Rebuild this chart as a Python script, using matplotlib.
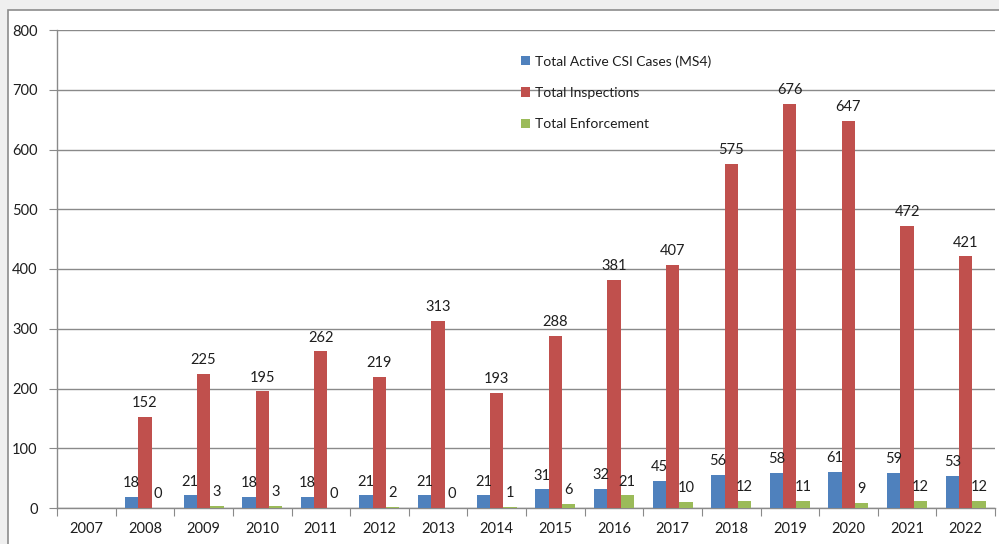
import numpy as np
import matplotlib.pyplot as plt
from matplotlib.patches import Rectangle

years = ['2007', '2008', '2009', '2010', '2011', '2012', '2013', '2014',
         '2015', '2016', '2017', '2018', '2019', '2020', '2021', '2022']
active_cases = [np.nan, 18, 21, 18, 18, 21, 21, 21, 31, 32, 45, 56, 58, 61, 59, 53]
inspections = [np.nan, 152, 225, 195, 262, 219, 313, 193, 288, 381, 407, 575, 676, 647, 472, 421]
enforcement = [np.nan, 0, 3, 3, 0, 2, 0, 1, 6, 21, 10, 12, 11, 9, 12, 12]

series = [
    ('Total Active CSI Cases (MS4)', active_cases, '#4F81BD'),
    ('Total Inspections', inspections, '#C0504D'),
    ('Total Enforcement', enforcement, '#9BBB59'),
]

plt.rcParams['font.family'] = ['Lato', 'DejaVu Sans']
txt = '#1e1e1e'
grid = '#8a8a8a'

fig = plt.figure(figsize=(9.99, 5.44), dpi=100, facecolor='#efefef')
# chart area frame, cut off at the right and bottom like the screenshot
fig.patches.append(Rectangle((8 / 999, -0.1), 1.1, 1.1 - 10 / 544,
                             transform=fig.transFigure, facecolor='white',
                             edgecolor='#8c8c8c', lw=1.2, zorder=-10))

ax = fig.add_axes([57 / 999, 36 / 544, 938 / 999, 478 / 544])
ax.set_facecolor('none')

x = np.arange(len(years))
w = 0.227
for i, (name, vals, color) in enumerate(series):
    pos = x + (i - 1) * w
    ax.bar(pos, vals, width=w, color=color, label=name, zorder=3)
    for px, v in zip(pos, vals):
        if np.isnan(v):
            continue
        ax.annotate(f'{int(v)}', (px, v), xytext=(0, 5), textcoords='offset points',
                    ha='center', va='bottom', fontsize=10.5, color=txt, zorder=4)

ax.set_xlim(-0.5, len(years) - 0.5)
ax.set_ylim(0, 800)
ax.set_yticks(np.arange(0, 801, 100))
ax.yaxis.grid(True, color=grid, lw=1, zorder=0)
ax.set_axisbelow(True)

ax.set_xticks(np.arange(-0.5, len(years), 1))
ax.set_xticklabels([])
ax.set_xticks(x, minor=True)
ax.set_xticklabels(years, minor=True)
ax.tick_params(axis='x', which='major', length=6, color=grid, direction='out')
ax.tick_params(axis='x', which='minor', length=0, pad=10, labelsize=10.5, labelcolor=txt)
ax.tick_params(axis='y', length=6, color=grid, pad=8, labelsize=10.5, labelcolor=txt)

for s in ['top', 'right']:
    ax.spines[s].set_visible(False)
for s in ['left', 'bottom']:
    ax.spines[s].set_color(grid)
    ax.spines[s].set_linewidth(1)

ax.legend(loc='upper left', bbox_to_anchor=(521 / 999, 1 - 55 / 544),
          bbox_transform=fig.transFigure, frameon=False, fontsize=10,
          handlelength=0.65, handleheight=0.65, handletextpad=0.35,
          labelspacing=1.4, borderpad=0, borderaxespad=0, labelcolor=txt)

fig.savefig('out.png', dpi=100, facecolor=fig.get_facecolor())
